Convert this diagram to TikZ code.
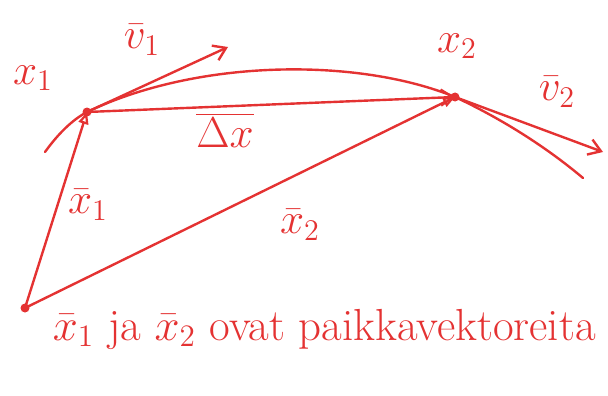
\documentclass[tikz,border=0pt]{standalone}
\usepackage{graphicx}
\usetikzlibrary{arrows.meta}
\definecolor{pen}{RGB}{228,50,50}
\newcommand{\hand}[2][2.5]{\scalebox{#1}{#2}}
\begin{document}
\begin{tikzpicture}[x=1pt,y=1pt,yscale=-1,
    ink/.style={draw=pen,line width=2.4pt,line cap=round,line join=round},
    barb/.style={ink,-{Straight Barb[length=12pt,width=16pt,line width=2.4pt]}},
    tri/.style={ink,-{Triangle[open,length=12pt,width=10pt,line width=2.2pt]}},
    dot/.style={circle,fill=pen,inner sep=0pt,minimum size=9pt},
    lbl/.style={text=pen,inner sep=0.75pt,font=\LARGE}]
    \useasboundingbox (0,0) rectangle (608,396);
    \clip (0,0) rectangle (608,396);

    %Points
    \node[dot] (O) at (25,308) {};
    \node[dot] (X1) at (87,112) {};
    \node[dot] (X2) at (455,97) {};
    \coordinate (V1) at (228,47);
    \coordinate (V2) at (603,152);
    \coordinate (Cs) at (45,152);
    \coordinate (Ce) at (583,178);

    %Trajectory
    \draw[ink] (Cs) .. controls (58,134) and (72,120) .. (X1.center) .. controls (200,58) and (360,58) .. (X2.center) .. controls (500,118) and (545,146) .. (Ce);

    %Straight Lines
    \draw[barb] (X1.center) -- (V1);
    \draw[barb] (X1.center) -- (X2.center);
    \draw[barb] (X2.center) -- (V2);
    \draw[tri] (O.center) -- (X1.center);
    \draw[tri] (O.center) -- (X2.center);

    % Text Node
    \node[lbl] (lx1) at (33,78) {\hand{$x_1$}};
    % Text Node
    \node[lbl] (lv1) at (142,40) {\hand{$\bar{v}_1$}};
    % Text Node
    \node[lbl] (ldx) at (225,130) {\hand{$\overline{\Delta x}$}};
    % Text Node
    \node[lbl] (lx2) at (457,46) {\hand{$x_2$}};
    % Text Node
    \node[lbl] (lv2) at (557,92) {\hand{$\bar{v}_2$}};
    % Text Node
    \node[lbl] (lX1) at (88,205) {\hand{$\bar{x}_1$}};
    % Text Node
    \node[lbl] (lX2) at (300,225) {\hand{$\bar{x}_2$}};
    % Text Node
    \node[lbl,anchor=base west] (note) at (52,340) {\hand[2.6]{$\bar{x}_1$ ja $\bar{x}_2$ ovat paikkavektoreita}};
\end{tikzpicture}
\end{document}
